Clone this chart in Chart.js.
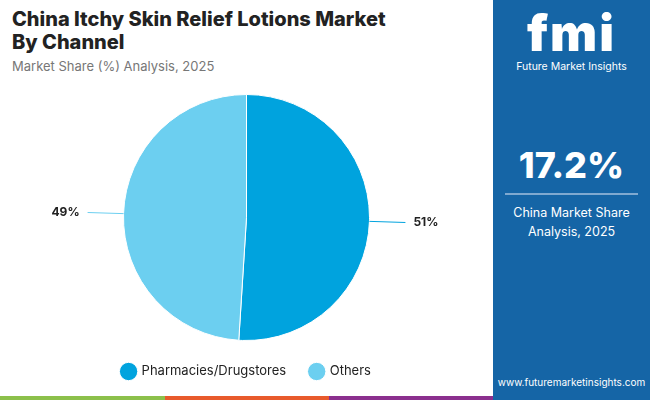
<!DOCTYPE html>
<html><head><meta charset="utf-8">
<script src="https://cdn.jsdelivr.net/npm/chart.js@4"></script>
<style>
body{margin:0;width:650px;height:400px;overflow:hidden;font-family:Inter,"Open Sans",sans-serif;background:#fff;position:relative}
#title{position:absolute;left:12px;top:8px;font-size:20px;font-weight:800;color:#222;line-height:23px}
#sub{position:absolute;left:12px;top:58px;font-size:13px;color:#777}
#panel{position:absolute;left:493px;top:0;width:157px;height:400px;background:#1565a6;color:#fff;text-align:center}
#wrap{position:absolute;left:0;top:74px;width:493px;height:320px}
.strip{position:absolute;top:396px;height:4px}
</style></head><body>
<div id="title">China Itchy Skin Relief Lotions Market<br>By Channel</div>
<div id="sub">Market Share (%) Analysis, 2025</div>
<div id="panel">
  <div style="margin-top:6px;font-size:50px;font-weight:900;letter-spacing:2px;line-height:54px">fmi</div>
  <div style="font-size:10.5px">Future Market Insights</div>
  <div style="margin-top:70px;font-size:36px;font-weight:800">17.2%</div>
  <div style="margin:6px 12px 0 12px;border-top:2px solid #7fa9d0"></div>
  <div style="margin-top:8px;font-size:12.5px;line-height:19px">China Market Share<br>Analysis, 2025</div>
  <div style="position:absolute;bottom:12px;width:100%;font-size:10px">www.futuremarketinsights.com</div>
</div>
<div id="wrap"><canvas id="c"></canvas></div>
<div class="strip" style="left:0;width:165px;background:#8cc04b"></div>
<div class="strip" style="left:165px;width:164px;background:#e85a2c"></div>
<div class="strip" style="left:329px;width:164px;background:#8b2f8e"></div>
<script>
var channels = ['Pharmacies/Drugstores', 'Others'];
var shares = [51, 49];
var colors = ['#00a3de', '#6ccff0'];

var outLabels = {
    id: 'outLabels',
    afterDatasetsDraw: function(chart) {
        var ctx = chart.ctx;
        chart.getDatasetMeta(0).data.forEach(function(arc, i) {
            var mid = (arc.startAngle + arc.endAngle) / 2;
            var r = arc.outerRadius;
            var x0 = arc.x + Math.cos(mid) * r, y0 = arc.y + Math.sin(mid) * r;
            var x1 = arc.x + Math.cos(mid) * (r + 36), y1 = arc.y + Math.sin(mid) * (r + 36);
            ctx.save();
            ctx.strokeStyle = colors[i];
            ctx.lineWidth = 1;
            ctx.beginPath(); ctx.moveTo(x0, y0); ctx.lineTo(x1, y1); ctx.stroke();
            ctx.fillStyle = '#222';
            ctx.font = 'bold 12px Inter, sans-serif';
            ctx.textBaseline = 'middle';
            ctx.textAlign = Math.cos(mid) > 0 ? 'left' : 'right';
            ctx.fillText(shares[i] + '%', x1 + (Math.cos(mid) > 0 ? 8 : -8), y1);
            ctx.restore();
        });
    }
};

new Chart(document.getElementById('c'), {
    type: 'pie',
    data: {
        labels: channels,
        datasets: [{ data: shares, backgroundColor: colors, borderColor: '#fff', borderWidth: 1 }]
    },
    options: {
        responsive: true,
        maintainAspectRatio: false,
        animation: false,
        layout: { padding: { top: 20, bottom: 6 } },
        plugins: {
            tooltip: { enabled: false },
            legend: {
                position: 'bottom',
                labels: { usePointStyle: true, pointStyle: 'circle', boxWidth: 18, boxHeight: 18, padding: 24, color: '#222', font: { size: 13, family: 'Inter, sans-serif' } }
            }
        }
    },
    plugins: [outLabels]
});
</script>
</body></html>
